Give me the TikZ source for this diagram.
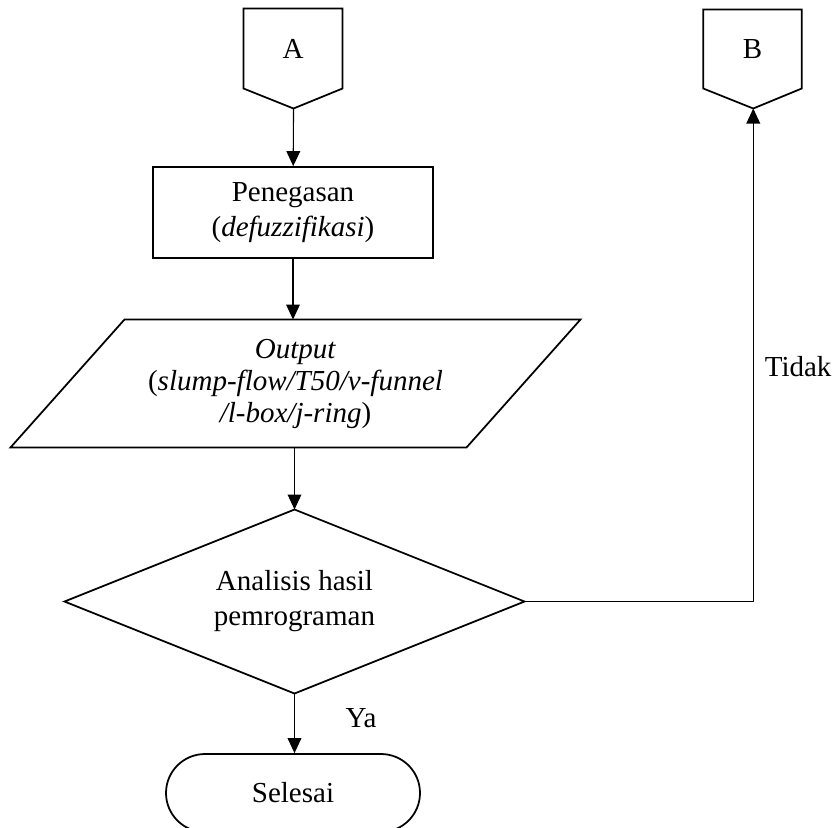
\documentclass[tikz,border=0pt]{standalone}
\usepackage{fontspec}
\setmainfont{Liberation Serif}
\usetikzlibrary{arrows.meta}
\tikzset{every node/.style={font=\fontsize{11.6pt}{14pt}\selectfont}}
\tikzset{flowbox/.style={rectangle,draw=black,line width=0.7pt,align=center}}
\tikzset{ghost/.style={rectangle,align=center,inner sep=0pt}}
\tikzset{outline/.style={draw=black,line width=0.7pt}}
\tikzset{flow/.style={-{Triangle[length=6pt,width=5.5pt]},line width=0.45pt}}
\tikzset{lbl/.style={inner sep=0pt}}

\begin{document}
\begin{tikzpicture}[x=0.4pt,y=-0.4pt]
\useasboundingbox (0,0) rectangle (840,827);
% off-page connectors
\node (A) [ghost,minimum width=39.2pt,minimum height=31.6pt] at (293,48.5) {A};
\draw[outline] (A.south west) -- (A.north west) -- (A.north east) -- (A.south east) -- ++(-49,20) coordinate (Atip) -- cycle;
\node (B) [ghost,minimum width=39pt,minimum height=31.2pt] at (752.5,49) {B};
\draw[outline] (B.south west) -- (B.north west) -- (B.north east) -- (B.south east) -- ++(-48.5,20) coordinate (Btip) -- cycle;
%
\node (defz) [flowbox,minimum width=112pt,minimum height=36.4pt] at (293,212.5) {Penegasan\\(\textit{defuzzifikasi})};
\node (out) [ghost,minimum width=182pt,minimum height=50.8pt,font=\fontsize{11.6pt}{12.8pt}\selectfont] at (295.5,383.5) {\textit{Output}\\(\textit{slump-flow/T50/v-funnel}\\\textit{/l-box/j-ring})};
\draw[outline] ([xshift=22.8pt]out.north west) -- ([xshift=22.8pt]out.north east) -- ([xshift=-22.8pt]out.south east) -- ([xshift=-22.8pt]out.south west) -- cycle;
\node (cek) [ghost,minimum width=183.6pt,minimum height=73.2pt] at (294.5,601.5) {Analisis hasil\\pemrograman};
\draw[outline] (cek.north) -- (cek.east) -- (cek.south) -- (cek.west) -- cycle;
\node (selesai) [flowbox,rounded corners=15.6pt,minimum width=101.6pt,minimum height=31.2pt] at (293,793) {Selesai};
%
{\path[flow] (Atip) edge (defz);}
{\path[flow] (defz) edge (defz |- out.north);}
{\path[flow] (cek.north |- out.south) edge (cek.north);}
{\path[flow] (cek.south) edge node[lbl,pos=0.41,right,xshift=20.2pt] {Ya} (cek.south |- selesai.north);}
{\draw[flow] (cek.east) -| node[lbl,pos=0.738,right,xshift=4.4pt] {Tidak} (Btip);}
\end{tikzpicture}
\end{document}
